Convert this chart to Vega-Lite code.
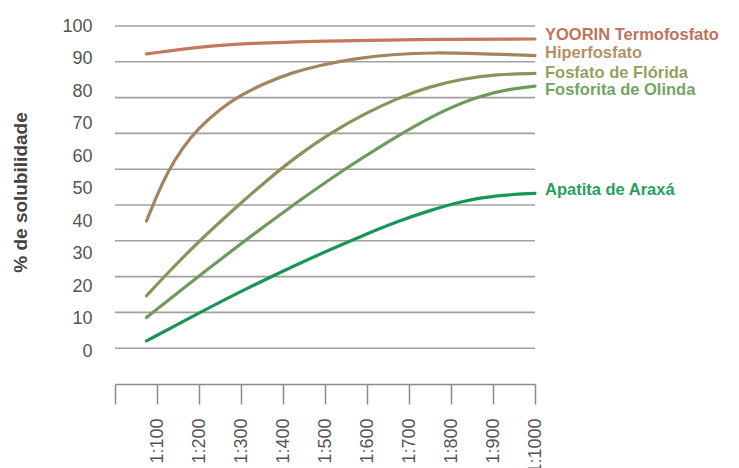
{
  "$schema": "https://vega.github.io/schema/vega-lite/v6.json",
  "width": 420,
  "height": 358,
  "autosize": {"type": "none"},
  "padding": {"left": 115, "top": 26, "right": 204, "bottom": 84},
  "background": "white",
  "config": {"view": {"stroke": null}, "font": "Liberation Sans, Arial, sans-serif"},
  "datasets": {
    "grid": [
      {"level": 10}, {"level": 20}, {"level": 30}, {"level": 40}, {"level": 50},
      {"level": 60}, {"level": 70}, {"level": 80}, {"level": 90}, {"level": 100}
    ],
    "curves": [
      {"series": "YOORIN Termofosfato", "ratio": 75, "solubility": 91.4},
      {"series": "YOORIN Termofosfato", "ratio": 200, "solubility": 93.6},
      {"series": "YOORIN Termofosfato", "ratio": 320, "solubility": 94.7},
      {"series": "YOORIN Termofosfato", "ratio": 500, "solubility": 95.4},
      {"series": "YOORIN Termofosfato", "ratio": 700, "solubility": 95.9},
      {"series": "YOORIN Termofosfato", "ratio": 1000, "solubility": 96.0},

      {"series": "Hiperfosfato", "ratio": 75, "solubility": 40},
      {"series": "Hiperfosfato", "ratio": 100, "solubility": 48},
      {"series": "Hiperfosfato", "ratio": 125, "solubility": 55},
      {"series": "Hiperfosfato", "ratio": 160, "solubility": 62.5},
      {"series": "Hiperfosfato", "ratio": 200, "solubility": 68.7},
      {"series": "Hiperfosfato", "ratio": 250, "solubility": 74.5},
      {"series": "Hiperfosfato", "ratio": 300, "solubility": 78.8},
      {"series": "Hiperfosfato", "ratio": 360, "solubility": 82.6},
      {"series": "Hiperfosfato", "ratio": 420, "solubility": 85.6},
      {"series": "Hiperfosfato", "ratio": 490, "solubility": 88},
      {"series": "Hiperfosfato", "ratio": 570, "solubility": 90},
      {"series": "Hiperfosfato", "ratio": 670, "solubility": 91.4},
      {"series": "Hiperfosfato", "ratio": 760, "solubility": 91.8},
      {"series": "Hiperfosfato", "ratio": 850, "solubility": 91.6},
      {"series": "Hiperfosfato", "ratio": 1000, "solubility": 90.9},

      {"series": "Fosfato de Flórida", "ratio": 75, "solubility": 17},
      {"series": "Fosfato de Flórida", "ratio": 140, "solubility": 26},
      {"series": "Fosfato de Flórida", "ratio": 210, "solubility": 35},
      {"series": "Fosfato de Flórida", "ratio": 282, "solubility": 43.5},
      {"series": "Fosfato de Flórida", "ratio": 355, "solubility": 51.8},
      {"series": "Fosfato de Flórida", "ratio": 433, "solubility": 60},
      {"series": "Fosfato de Flórida", "ratio": 512, "solubility": 67},
      {"series": "Fosfato de Flórida", "ratio": 591, "solubility": 72.8},
      {"series": "Fosfato de Flórida", "ratio": 671, "solubility": 77.7},
      {"series": "Fosfato de Flórida", "ratio": 750, "solubility": 81.4},
      {"series": "Fosfato de Flórida", "ratio": 829, "solubility": 83.8},
      {"series": "Fosfato de Flórida", "ratio": 909, "solubility": 85.1},
      {"series": "Fosfato de Flórida", "ratio": 1000, "solubility": 85.4},

      {"series": "Fosforita de Olinda", "ratio": 75, "solubility": 10.3},
      {"series": "Fosforita de Olinda", "ratio": 155, "solubility": 18.5},
      {"series": "Fosforita de Olinda", "ratio": 234, "solubility": 26.5},
      {"series": "Fosforita de Olinda", "ratio": 314, "solubility": 34.4},
      {"series": "Fosforita de Olinda", "ratio": 393, "solubility": 42},
      {"series": "Fosforita de Olinda", "ratio": 472, "solubility": 49.3},
      {"series": "Fosforita de Olinda", "ratio": 550, "solubility": 56.2},
      {"series": "Fosforita de Olinda", "ratio": 630, "solubility": 62.8},
      {"series": "Fosforita de Olinda", "ratio": 710, "solubility": 69},
      {"series": "Fosforita de Olinda", "ratio": 790, "solubility": 74.5},
      {"series": "Fosforita de Olinda", "ratio": 870, "solubility": 78.6},
      {"series": "Fosforita de Olinda", "ratio": 940, "solubility": 80.6},
      {"series": "Fosforita de Olinda", "ratio": 1000, "solubility": 81.5},

      {"series": "Apatita de Araxá", "ratio": 75, "solubility": 3.1},
      {"series": "Apatita de Araxá", "ratio": 194, "solubility": 11.3},
      {"series": "Apatita de Araxá", "ratio": 314, "solubility": 19.3},
      {"series": "Apatita de Araxá", "ratio": 433, "solubility": 26.6},
      {"series": "Apatita de Araxá", "ratio": 512, "solubility": 31.2},
      {"series": "Apatita de Araxá", "ratio": 591, "solubility": 35.6},
      {"series": "Apatita de Araxá", "ratio": 671, "solubility": 39.8},
      {"series": "Apatita de Araxá", "ratio": 750, "solubility": 43.3},
      {"series": "Apatita de Araxá", "ratio": 829, "solubility": 46.2},
      {"series": "Apatita de Araxá", "ratio": 909, "solubility": 47.9},
      {"series": "Apatita de Araxá", "ratio": 1000, "solubility": 48.5}
    ],
    "labels": [
      {"series": "YOORIN Termofosfato", "ratio": 1000, "solubility": 97.2},
      {"series": "Hiperfosfato", "ratio": 1000, "solubility": 91.7},
      {"series": "Fosfato de Flórida", "ratio": 1000, "solubility": 85.5},
      {"series": "Fosforita de Olinda", "ratio": 1000, "solubility": 80.3},
      {"series": "Apatita de Araxá", "ratio": 1000, "solubility": 49.5}
    ]
  },
  "layer": [
    {
      "data": {"name": "grid"},
      "mark": {"type": "rule", "color": "#a0a0a0", "strokeWidth": 1.6},
      "encoding": {
        "y": {"field": "level", "type": "quantitative", "scale": {"domain": [0, 100], "nice": false}, "axis": null}
      }
    },
    {
      "encoding": {
        "x": {
          "field": "ratio", "type": "quantitative",
          "scale": {"domain": [0, 1000], "nice": false},
          "axis": {
            "values": [0, 100, 200, 300, 400, 500, 600, 700, 800, 900, 1000],
            "labelExpr": "datum.value == 0 ? '' : '1:' + datum.value",
            "labelAngle": -90, "labelFontSize": 18, "labelColor": "#555555",
            "labelFont": "Liberation Sans, Arial, sans-serif",
            "tickSize": 20, "tickColor": "#8a8a8a", "tickWidth": 1.5,
            "domainColor": "#8a8a8a", "domainWidth": 1.5,
            "labelPadding": 14, "grid": false, "title": null,
            "labelBound": false, "labelOverlap": false, "labelFlush": false
          }
        },
        "y": {
          "field": "solubility", "type": "quantitative",
          "scale": {"domain": [-10.15, 100], "nice": false, "zero": false},
          "axis": {
            "orient": "left",
            "values": [0, 10, 20, 30, 40, 50, 60, 70, 80, 90, 100],
            "grid": false, "domain": false, "ticks": false, "tickSize": 0,
            "labelOverlap": false, "labelBound": false, "labelFlush": false,
            "labelPadding": 23, "labelFontSize": 18, "labelColor": "#555555",
            "labelFont": "Liberation Sans, Arial, sans-serif",
            "title": "% de solubilidade", "titleFontSize": 19, "titleFontWeight": "bold",
            "titleColor": "#444444", "titleFont": "Liberation Sans, Arial, sans-serif",
            "titleX": -85, "titleY": 166, "titleAngle": 270, "titleBaseline": "bottom", "titleAlign": "center"
          }
        }
      },
      "layer": [
        {
          "data": {"name": "curves"},
          "mark": {"type": "line", "interpolate": "basis", "strokeWidth": 3.2, "strokeCap": "round"},
          "encoding": {
            "stroke": {
              "field": "series", "type": "nominal",
              "scale": {
                "domain": ["YOORIN Termofosfato", "Hiperfosfato", "Fosfato de Flórida", "Fosforita de Olinda", "Apatita de Araxá"],
                "range": ["#c4785e", "#a4845e", "#8f905a", "#6f9a5e", "#1a9556"]
              },
              "legend": null
            }
          }
        },
        {
          "data": {"name": "labels"},
          "mark": {"type": "text", "align": "left", "baseline": "middle", "dx": 10, "fontWeight": "bold", "fontSize": 16.5, "font": "Liberation Sans, Arial, sans-serif"},
          "encoding": {
            "text": {"field": "series"},
            "fill": {
              "field": "series", "type": "nominal",
              "scale": {
                "domain": ["YOORIN Termofosfato", "Hiperfosfato", "Fosfato de Flórida", "Fosforita de Olinda", "Apatita de Araxá"],
                "range": ["#c0735a", "#b58f68", "#98a060", "#74a464", "#28a060"]
              },
              "legend": null
            }
          }
        }
      ]
    }
  ],
  "resolve": {"scale": {"y": "independent"}}
}
